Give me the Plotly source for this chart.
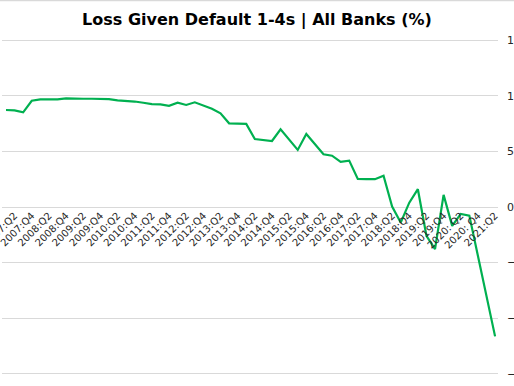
import plotly.graph_objects as go

quarters = []
for yr in range(2007, 2022):
    for q in range(1, 5):
        if yr == 2021 and q > 2:
            break
        sep = ": " if yr == 2020 else ":"
        quarters.append(f"{yr}{sep}Q{q}")

lgd = [8.72, 8.69, 8.51, 9.55, 9.68, 9.70, 9.68, 9.77, 9.73, 9.73,
       9.73, 9.70, 9.70, 9.59, 9.55, 9.48, 9.37, 9.25, 9.23, 9.10,
       9.37, 9.17, 9.41, 9.10, 8.83, 8.42, 7.52, 7.49, 7.47, 6.11,
       6.02, 5.93, 6.98, 6.06, 5.13, 6.56, 5.66, 4.74, 4.61, 4.05,
       4.17, 2.52, 2.50, 2.50, 2.82, 0.04, -1.40, 0.39, 1.60, -2.59,
       -3.79, 1.09, -1.70, -0.62, -0.77, -4.45, -8.0, -11.63]

tick_labels = quarters[1::2]
y_ticks = [-15, -10, -5, 0, 5, 10, 15]

fig = go.Figure(go.Scatter(
    x=quarters, y=lgd, mode="lines",
    line=dict(color="#00B050", width=2.2),
    hoverinfo="x+y",
))

fig.update_layout(
    width=514, height=386,
    margin=dict(l=2, r=16, t=39, b=11, autoexpand=False),
    paper_bgcolor="white", plot_bgcolor="white",
    showlegend=False,
    font=dict(family="DejaVu Sans", color="#262626"),
    title=dict(text="<b>Loss Given Default 1-4s | All Banks (%)</b>",
               x=0.5, xref="container", xanchor="center",
               y=1 - 19 / 386, yref="container", yanchor="middle",
               font=dict(size=16, color="#000000", family="DejaVu Sans")),
    xaxis=dict(
        type="category", range=[-0.466, 57.34],
        tickvals=tick_labels, ticktext=tick_labels,
        tickangle=-45, tickfont=dict(size=10, color="#262626"),
        showgrid=False, zeroline=False, showline=False, ticks="",
        anchor="free", position=0.5, automargin=False,
    ),
    yaxis=dict(
        range=[-15.1, 15.1], tickvals=y_ticks, side="right",
        showgrid=True, gridcolor="#d9d9d9", gridwidth=1,
        zeroline=False, showline=False, ticks="",
        ticklabelstandoff=8, tickfont=dict(size=11, color="#262626"),
        automargin=False,
    ),
    shapes=[dict(type="line", xref="paper", yref="paper",
                 x0=-0.01, x1=1.04, y0=1 + 38.5 / 336, y1=1 + 38.5 / 336,
                 line=dict(color="#d9d9d9", width=1.5))],
)

fig.write_html(
    "out.html",
    config={"displayModeBar": False},
    post_script="document.body.style.margin='0';document.body.style.overflow='hidden';",
)
